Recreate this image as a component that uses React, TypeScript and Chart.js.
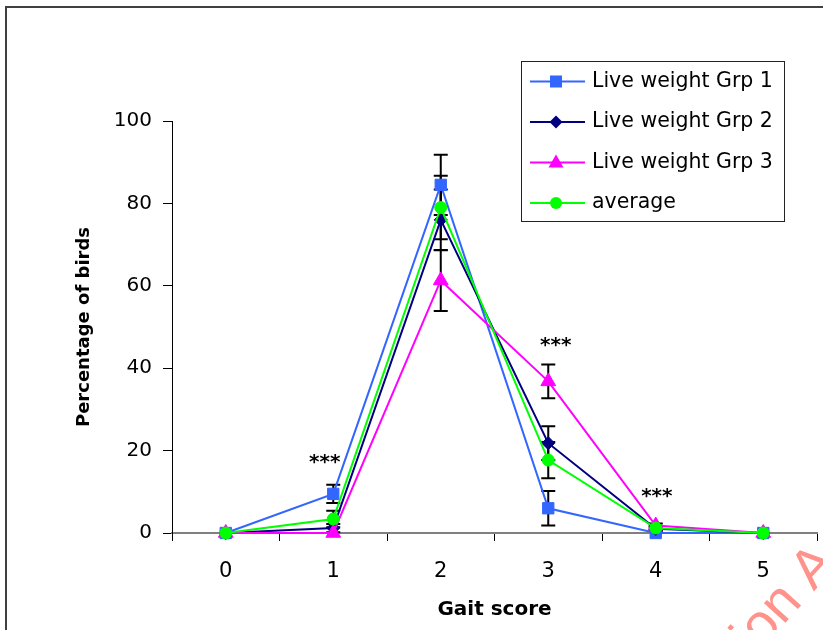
import React, { useEffect, useRef } from 'react';
import { Chart, registerables } from 'chart.js';

Chart.register(...registerables);

// ---- data ----
const categories = ['0', '1', '2', '3', '4', '5'];
const seriesNames = ['Live weight Grp 1', 'Live weight Grp 2', 'Live weight Grp 3', 'average'];
const grp1 = [0, 9.5, 84.5, 6, 0, 0];
const grp1Err = [0, 2.2, 7.3, 4.2, 0, 0];
const grp2 = [0, 1.2, 76, 21.8, 1, 0];
const grp2Err = [0, 1, 7.4, 4.1, 0.5, 0];
const grp3 = [0, 0, 61.3, 36.8, 1.8, 0];
const grp3Err = [0, 0, 7.4, 4.1, 0.5, 0];
const average = [0, 3.4, 79, 17.7, 1.2, 0];
const averageErr = [0, 2, 7.7, 4.4, 0.5, 0];
const yTickValues = [0, 20, 40, 60, 80, 100];
const sigCategory = [0.92, 3.07, 4.01];
const sigHeight = [18.7, 47, 10.4];
const sigLabel = ['***', '***', '***'];

// ---- styles ----
const seriesColors = ['#3366FF', '#000080', '#FF00FF', '#00FF00'];
const seriesPointStyles = ['rect', 'rectRot', 'triangle', 'circle'];
const seriesRadii = [8, 6.5, 8.5, 6];
const seriesValues = [grp1, grp2, grp3, average];
const seriesErrors = [grp1Err, grp2Err, grp3Err, averageErr];
const FONT = 'DejaVu Sans';

function drawMarker(ctx: CanvasRenderingContext2D, style: string, cx: number, cy: number, color: string) {
  ctx.fillStyle = color;
  ctx.beginPath();
  if (style === 'rect') {
    ctx.rect(cx - 6, cy - 6, 12, 12);
  } else if (style === 'rectRot') {
    ctx.moveTo(cx - 6.5, cy);
    ctx.lineTo(cx, cy - 6.5);
    ctx.lineTo(cx + 6.5, cy);
    ctx.lineTo(cx, cy + 6.5);
    ctx.closePath();
  } else if (style === 'triangle') {
    ctx.moveTo(cx, cy - 8);
    ctx.lineTo(cx + 7.5, cy + 5);
    ctx.lineTo(cx - 7.5, cy + 5);
    ctx.closePath();
  } else {
    ctx.arc(cx, cy, 6, 0, Math.PI * 2);
  }
  ctx.fill();
}

const framePlugin = {
  id: 'frame',
  beforeDraw(chart: any) {
    const ctx = chart.ctx as CanvasRenderingContext2D;
    ctx.save();
    ctx.fillStyle = '#fff';
    ctx.fillRect(0, 0, chart.width, chart.height);
    ctx.strokeStyle = '#404040';
    ctx.lineWidth = 2;
    ctx.beginPath();
    ctx.moveTo(6, chart.height + 5);
    ctx.lineTo(6, 7);
    ctx.lineTo(chart.width + 5, 7);
    ctx.stroke();
    ctx.restore();
  },
};

const errorBarPlugin = {
  id: 'errorBars',
  beforeDatasetsDraw(chart: any) {
    const ctx = chart.ctx as CanvasRenderingContext2D;
    const x = chart.scales.x;
    const y = chart.scales.y;
    ctx.save();
    ctx.strokeStyle = '#000';
    ctx.lineWidth = 2;
    seriesValues.forEach((vals, i) => {
      vals.forEach((v, j) => {
        const e = seriesErrors[i][j];
        if (!e) return;
        const px = x.getPixelForValue(j);
        const top = y.getPixelForValue(v + e);
        const bot = y.getPixelForValue(Math.max(0, v - e));
        ctx.beginPath();
        ctx.moveTo(px, top);
        ctx.lineTo(px, bot);
        ctx.moveTo(px - 7, top);
        ctx.lineTo(px + 7, top);
        ctx.moveTo(px - 7, bot);
        ctx.lineTo(px + 7, bot);
        ctx.stroke();
      });
    });
    ctx.restore();
  },
};

const annotationPlugin = {
  id: 'annotations',
  afterDraw(chart: any) {
    const ctx = chart.ctx as CanvasRenderingContext2D;
    const x = chart.scales.x;
    const y = chart.scales.y;
    ctx.save();
    // significance stars
    ctx.fillStyle = '#000';
    ctx.font = `bold 20px "${FONT}"`;
    ctx.textAlign = 'center';
    ctx.textBaseline = 'alphabetic';
    sigCategory.forEach((c, i) => {
      ctx.fillText(sigLabel[i], x.getPixelForValue(c), y.getPixelForValue(sigHeight[i]) + 12);
    });

    // legend
    const bx = 521.5, by = 61.5, bw = 263, bh = 160;
    ctx.fillStyle = '#fff';
    ctx.fillRect(bx, by, bw, bh);
    ctx.strokeStyle = '#222';
    ctx.lineWidth = 1;
    ctx.strokeRect(bx, by, bw, bh);
    ctx.font = `20.5px "${FONT}"`;
    ctx.textAlign = 'left';
    ctx.textBaseline = 'alphabetic';
    seriesNames.forEach((name, i) => {
      const cy = 81.5 + i * 40.5;
      ctx.strokeStyle = seriesColors[i];
      ctx.lineWidth = 2;
      ctx.beginPath();
      ctx.moveTo(530, cy);
      ctx.lineTo(585, cy);
      ctx.stroke();
      drawMarker(ctx, seriesPointStyles[i], 556, cy, seriesColors[i]);
      ctx.fillStyle = '#000';
      ctx.fillText(name, 592, cy + 5);
    });

    // watermark
    const fs = 55;
    ctx.translate(782, 604);
    ctx.rotate((-48 * Math.PI) / 180);
    ctx.font = `${fs}px "Liberation Sans"`;
    ctx.fillStyle = 'rgba(255, 110, 100, 0.75)';
    ctx.textAlign = 'right';
    ctx.textBaseline = 'middle';
    ctx.fillText('ation A', 1.223 * fs, 0);
    ctx.restore();
  },
};

export default function App() {
  const ref = useRef<HTMLCanvasElement | null>(null);

  useEffect(() => {
    document.body.style.margin = '0';
    if (!ref.current) return;
    Chart.defaults.font.family = FONT;
    Chart.defaults.color = '#000';

    const datasets = seriesNames.map((name, i) => ({
      label: name,
      data: seriesValues[i],
      borderColor: seriesColors[i],
      backgroundColor: seriesColors[i],
      pointBackgroundColor: seriesColors[i],
      pointBorderColor: seriesColors[i],
      pointStyle: seriesPointStyles[i] as any,
      pointRadius: seriesRadii[i],
      pointBorderWidth: 1,
      borderWidth: 2,
      tension: 0,
      clip: false as any,
      order: 3 - i,
    }));

    const chart = new Chart(ref.current, {
      type: 'line',
      data: { labels: categories, datasets },
      options: {
        animation: false,
        responsive: false,
        layout: { autoPadding: false, padding: { top: 121, right: 6, left: 0, bottom: 0 } },
        plugins: {
          legend: { display: false },
          tooltip: { enabled: false },
        },
        scales: {
          x: {
            type: 'category',
            offset: true,
            grid: {
              offset: true,
              drawOnChartArea: false,
              drawTicks: true,
              tickLength: 8,
              color: '#000',
            },
            border: { color: '#808080', width: 2 },
            ticks: { font: { size: 21 }, padding: 18, color: '#000' },
            title: {
              display: true,
              text: 'Gait score',
              font: { size: 20, weight: 'bold' },
              padding: { top: 0, bottom: 8 },
              color: '#000',
            },
            afterFit: (s: any) => {
              s.height = 97;
              s.paddingLeft = 0;
              s.paddingRight = 0;
            },
          },
          y: {
            min: 0,
            max: 100,
            afterBuildTicks: (s: any) => {
              s.ticks = yTickValues.map((v) => ({ value: v }));
            },
            grid: {
              drawOnChartArea: false,
              drawTicks: true,
              tickLength: 9,
              color: '#000',
            },
            border: { color: '#000', width: 1 },
            ticks: { font: { size: 20 }, padding: 11, color: '#000' },
            title: {
              display: true,
              text: 'Percentage of birds',
              font: { size: 18, weight: 'bold' },
              padding: { top: 74, bottom: 0 },
              color: '#000',
            },
            afterFit: (s: any) => {
              s.width = 172;
              s.paddingTop = 0;
              s.paddingBottom = 0;
            },
          },
        },
      },
      plugins: [framePlugin, errorBarPlugin, annotationPlugin],
    });

    return () => chart.destroy();
  }, []);

  return (
    <div style={{ width: 823, height: 630 }}>
      <canvas ref={ref} width={823} height={630} style={{ display: 'block' }} />
    </div>
  );
}
